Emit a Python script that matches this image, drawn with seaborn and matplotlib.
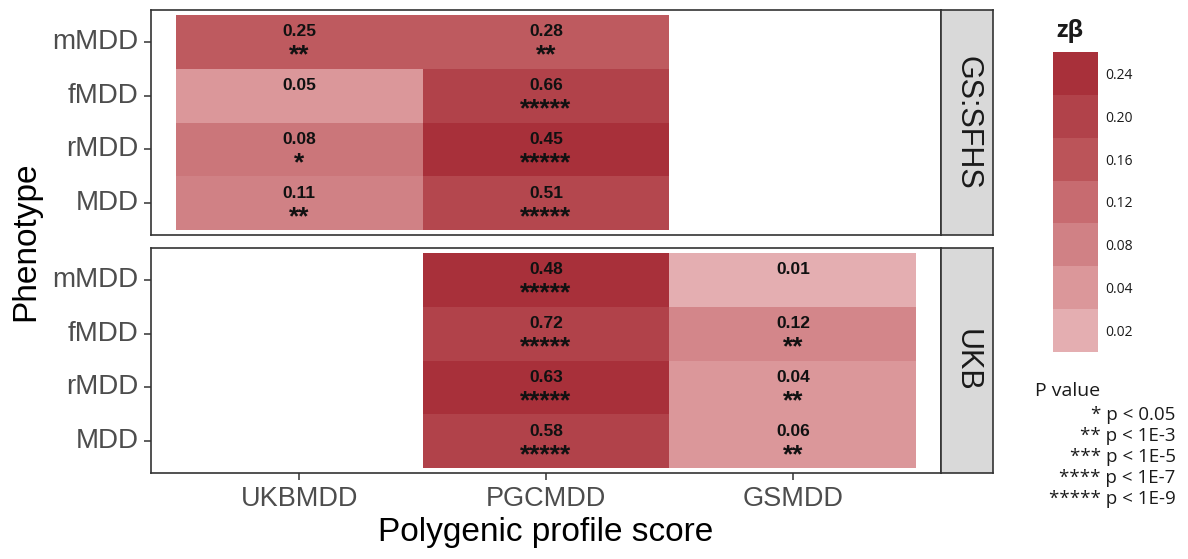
import numpy as np
import pandas as pd
import matplotlib
matplotlib.use("Agg")
import matplotlib.pyplot as plt
from matplotlib.colors import LinearSegmentedColormap, ListedColormap, BoundaryNorm
import seaborn as sns

# ---- data -------------------------------------------------------------
prs_scores = ["UKBMDD", "PGCMDD", "GSMDD"]
phenotypes = ["mMDD", "fMDD", "rMDD", "MDD"]
cohorts = ["GS:SFHS", "UKB"]

# standardised effect size (fill colour)
zbeta_gs = [[0.15, 0.15, np.nan],
            [0.04, 0.20, np.nan],
            [0.10, 0.24, np.nan],
            [0.08, 0.19, np.nan]]
zbeta_ukb = [[np.nan, 0.24, 0.02],
             [np.nan, 0.20, 0.07],
             [np.nan, 0.24, 0.04],
             [np.nan, 0.20, 0.04]]

# printed value in each tile
value_gs = [[0.25, 0.28, np.nan],
            [0.05, 0.66, np.nan],
            [0.08, 0.45, np.nan],
            [0.11, 0.51, np.nan]]
value_ukb = [[np.nan, 0.48, 0.01],
             [np.nan, 0.72, 0.12],
             [np.nan, 0.63, 0.04],
             [np.nan, 0.58, 0.06]]

# significance stars
stars_gs = [["**", "**", ""],
            ["", "*****", ""],
            ["*", "*****", ""],
            ["**", "*****", ""]]
stars_ukb = [["", "*****", ""],
             ["", "*****", "**"],
             ["", "*****", "**"],
             ["", "*****", "**"]]

# colour legend steps
legend_values = [0.02, 0.04, 0.08, 0.12, 0.16, 0.20, 0.24]
legend_colors = ["#E4AEB1", "#DB979A", "#D08185", "#C76B70",
                 "#BB5459", "#B1424A", "#A8303A"]

pvalue_lines = ["* p < 0.05", "** p < 1E-3", "*** p < 1E-5",
                "**** p < 1E-7", "***** p < 1E-9"]

# ---- styling ----------------------------------------------------------
sns.set_theme(style="white")
plt.rcParams["font.family"] = ["Liberation Sans", "DejaVu Sans"]

vmin, vmax = legend_values[0], legend_values[-1]
positions = [(v - vmin) / (vmax - vmin) for v in legend_values]
cmap = LinearSegmentedColormap.from_list("zbeta", list(zip(positions, legend_colors)))

fig = plt.figure(figsize=(11.88, 5.59), dpi=100)

left, width = 0.1271, 0.665
panel_h = 0.4025
bottoms = [0.5796, 0.1538]
strip_w = 0.04377

panels = [
    (cohorts[0], zbeta_gs, value_gs, stars_gs),
    (cohorts[1], zbeta_ukb, value_ukb, stars_ukb),
]

frame_color = "#333333"
for i, (cohort, zb, vals, stars) in enumerate(panels):
    ax = fig.add_axes([left, bottoms[i], width, panel_h])
    df = pd.DataFrame(zb, index=phenotypes, columns=prs_scores)
    sns.heatmap(df, ax=ax, cmap=cmap, vmin=vmin, vmax=vmax, cbar=False,
                linewidths=0, square=False)
    ax.set_xlim(-0.1, 3.1)
    ax.set_ylim(4.09, -0.09)
    for s in ax.spines.values():
        s.set_visible(True)
        s.set_color(frame_color)
        s.set_linewidth(1.2)

    # tile annotations
    for r in range(len(phenotypes)):
        for c in range(len(prs_scores)):
            v = vals[r][c]
            if np.isnan(v):
                continue
            ax.text(c + 0.5, r + 0.31, f"{v:.2f}", ha="center", va="center",
                    fontsize=12.5, fontweight="bold", color="#111111")
            if stars[r][c]:
                ax.text(c + 0.5, r + 0.76, stars[r][c], ha="center", va="center",
                        fontsize=19, fontweight="bold", color="#111111")

    ax.set_yticks(np.arange(len(phenotypes)) + 0.5)
    ax.set_yticklabels(phenotypes, rotation=0, fontsize=20, color="#4D4D4D")
    ax.tick_params(axis="y", left=True, length=5, width=1.1, color=frame_color, pad=4)
    ax.set_ylabel("")
    if i == 1:
        ax.set_xticks(np.arange(len(prs_scores)) + 0.5)
        ax.set_xticklabels(prs_scores, fontsize=19.5, color="#4D4D4D")
        ax.tick_params(axis="x", bottom=True, length=5, width=1.1, color=frame_color, pad=4)
        ax.set_xlabel("Polygenic profile score", fontsize=24, color="black", labelpad=4)
    else:
        ax.set_xticks([])
        ax.set_xlabel("")

    # facet strip
    sax = fig.add_axes([left + width, bottoms[i], strip_w, panel_h])
    sax.set_facecolor("#D9D9D9")
    sax.set_xticks([])
    sax.set_yticks([])
    for s in sax.spines.values():
        s.set_visible(True)
        s.set_color(frame_color)
        s.set_linewidth(1.2)
    sax.text(0.5, 0.5, cohort, rotation=270, ha="center", va="center",
             fontsize=22, color="#1A1A1A", transform=sax.transAxes)

fig.text(0.022, (bottoms[1] + bottoms[0] + panel_h) / 2, "Phenotype", rotation=90,
         ha="center", va="center", fontsize=24, color="black")

# ---- colour legend ----------------------------------------------------
legend_font = ["Open Sans", "DejaVu Sans"]
cax = fig.add_axes([0.8864, 0.3703, 0.0379, 0.5367])
step_cmap = ListedColormap(legend_colors)
step_norm = BoundaryNorm(np.arange(len(legend_values) + 1), step_cmap.N)
cb = fig.colorbar(plt.cm.ScalarMappable(norm=step_norm, cmap=step_cmap), cax=cax,
                  ticks=np.arange(len(legend_values)) + 0.5)
cb.outline.set_visible(False)
cb.minorticks_off()
cb.ax.set_yticks(np.arange(len(legend_values)) + 0.5)
cb.ax.set_yticklabels([f"{v:.2f}" for v in legend_values], family=legend_font,
                      fontsize=10, color="#1A1A1A")
cb.ax.tick_params(which="both", length=0, pad=5)
fig.text(0.8895, 0.945, "zβ", ha="left", va="center", fontsize=17,
         fontweight="bold", family=legend_font, color="#1A1A1A")

fig.text(0.8712, 0.300, "P value", ha="left", va="center", fontsize=14,
         family=legend_font, color="#1A1A1A")
for k, line in enumerate(pvalue_lines):
    fig.text(0.9895, 0.257 - k * 0.0375, line, ha="right", va="center",
             fontsize=13.5, family=legend_font, color="#1A1A1A")

fig.savefig("out.png", dpi=100)
